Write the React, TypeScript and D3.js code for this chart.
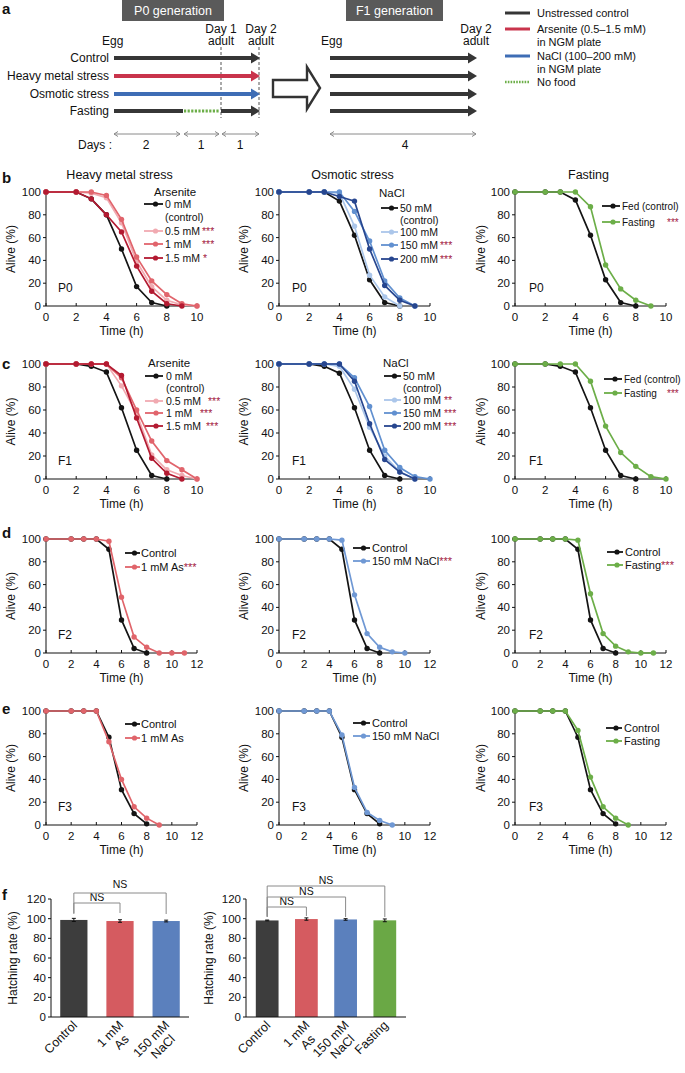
import React from 'react';
import * as d3 from 'd3';

type Pt = [number, number];

// ---------- Panel b (P0) ----------
const p0ArsCtrl: Pt[] = [[0,100],[2,100],[3,94],[4,80],[5,50],[6,17],[7,3],[8,0]];
const p0Ars05: Pt[] = [[0,100],[2,100],[3,99],[4,95],[5,73],[6,39],[7,17],[8,5],[9,1],[10,0]];
const p0Ars1: Pt[] = [[0,100],[2,100],[3,100],[4,97],[5,76],[6,43],[7,22],[8,10],[9,2],[10,0]];
const p0Ars15: Pt[] = [[0,100],[2,100],[3,94],[4,80],[5,65],[6,35],[7,13],[8,2],[9,0]];

const p0NaCtrl: Pt[] = [[0,100],[2,100],[3,100],[4,92],[5,62],[6,23],[7,3],[8,0]];
const p0Na100: Pt[] = [[0,100],[2,100],[3,100],[4,99],[5,70],[6,27],[7,8],[8,0]];
const p0Na150: Pt[] = [[0,100],[2,100],[3,100],[4,100],[5,83],[6,57],[7,22],[8,7],[9,0]];
const p0Na200: Pt[] = [[0,100],[2,100],[3,100],[4,96],[5,92],[6,50],[7,18],[8,5],[9,0]];

const p0FastCtrl: Pt[] = [[0,100],[2,100],[3,100],[4,93],[5,62],[6,23],[7,3],[8,0]];
const p0Fast: Pt[] = [[0,100],[2,100],[3,100],[4,100],[5,87],[6,36],[7,15],[8,5],[9,0]];

// ---------- Panel c (F1) ----------
const f1ArsCtrl: Pt[] = [[0,100],[2,100],[3,98],[4,93],[5,62],[6,25],[7,3],[8,0]];
const f1Ars05: Pt[] = [[0,100],[2,100],[3,100],[4,100],[5,81],[6,57],[7,21],[8,8],[9,3],[10,0]];
const f1Ars1: Pt[] = [[0,100],[2,100],[3,100],[4,100],[5,88],[6,60],[7,33],[8,16],[9,8],[10,0]];
const f1Ars15: Pt[] = [[0,100],[2,100],[3,100],[4,100],[5,90],[6,53],[7,18],[8,5],[9,0]];

const f1NaCtrl: Pt[] = [[0,100],[2,100],[3,98],[4,92],[5,62],[6,25],[7,3],[8,0]];
const f1Na100: Pt[] = [[0,100],[2,100],[3,100],[4,98],[5,78],[6,45],[7,20],[8,6],[9,0]];
const f1Na150: Pt[] = [[0,100],[2,100],[3,100],[4,100],[5,88],[6,63],[7,25],[8,10],[9,2],[10,0]];
const f1Na200: Pt[] = [[0,100],[2,100],[3,100],[4,100],[5,85],[6,48],[7,17],[8,6],[9,0]];

const f1FastCtrl: Pt[] = [[0,100],[2,100],[3,98],[4,93],[5,62],[6,25],[7,3],[8,0]];
const f1Fast: Pt[] = [[0,100],[2,100],[3,100],[4,100],[5,85],[6,46],[7,23],[8,11],[9,2],[10,0]];

// ---------- Panel d (F2) ----------
const f2Ctrl: Pt[] = [[0,100],[2,100],[3,100],[4,100],[5,91],[6,29],[7,4],[8,0]];
const f2As: Pt[] = [[0,100],[2,100],[3,100],[4,100],[5,98],[6,49],[7,14],[8,5],[9,0],[10,0],[11,0]];
const f2Na: Pt[] = [[0,100],[2,100],[3,100],[4,100],[5,99],[6,51],[7,17],[8,5],[9,1],[10,0]];
const f2Fast: Pt[] = [[0,100],[2,100],[3,100],[4,100],[5,99],[6,52],[7,17],[8,6],[9,1],[10,0],[11,0]];

// ---------- Panel e (F3) ----------
const f3Ctrl: Pt[] = [[0,100],[2,100],[3,100],[4,100],[5,77],[6,31],[7,10],[8,1]];
const f3As: Pt[] = [[0,100],[2,100],[3,100],[4,100],[5,73],[6,40],[7,16],[8,6],[9,0]];
const f3Na: Pt[] = [[0,100],[2,100],[3,100],[4,100],[5,79],[6,33],[7,11],[8,4],[9,0]];
const f3Fast: Pt[] = [[0,100],[2,100],[3,100],[4,100],[5,83],[6,42],[7,16],[8,6],[9,0]];

// ---------- Panel f (hatching rate) ----------
const barCatsA = ['Control', '1 mM As', '150 mM NaCl'];
const barLabelsA = [['Control'], ['1 mM', 'As'], ['150 mM', 'NaCl']];
const barValsA = [98.7, 97.6, 97.6];
const barErrsA = [1.6, 1.3, 0.9];
const barCatsB = ['Control', '1 mM As', '150 mM NaCl', 'Fasting'];
const barLabelsB = [['Control'], ['1 mM', 'As'], ['150 mM', 'NaCl'], ['Fasting']];
const barValsB = [98.2, 99.6, 99.2, 98.3];
const barErrsB = [0.4, 1.2, 0.8, 1.4];

const yTicksSurv = [0, 20, 40, 60, 80, 100];
const yTicksBar = [0, 20, 40, 60, 80, 100, 120];

const FONT = '"Liberation Sans", Arial, Helvetica, sans-serif';
const NARROW = '"Liberation Sans Narrow", "Liberation Sans", Arial, sans-serif';

const BLACK = '#141414';
const ARS = ['#f1aab1', '#e1646c', '#b31a31'];
const NA = ['#abc6ea', '#6190d0', '#27468f'];
const GREEN = '#6cae48';
const RED1 = '#e0646a';
const BLUE1 = '#6f98d4';
const STAR = '#a3203f';
const DARK = '#363636';
const HM = '#c9344c';
const OSM = '#3e6db5';

const COLX = [46, 279, 515];
const PW = 151;

interface Series { data: Pt[]; color: string }
interface LegItem { label: string; y: number; color?: string; stars?: string; starX?: number }
interface LegendCfg { lx1: number; lx2: number; tx: number; header?: { text: string; x: number; y: number }; items: LegItem[]; size?: number }

function Legend({ cfg, font }: { cfg: LegendCfg; font: string }) {
  const fs = cfg.size ?? 10.5;
  return (
    <g fontFamily={font} fontSize={fs} fill="#111">
      {cfg.header && <text x={cfg.header.x} y={cfg.header.y} dy="0.35em" fontSize={11.5}>{cfg.header.text}</text>}
      {cfg.items.map((it, i) => (
        <g key={i}>
          {it.color && (
            <g>
              <line x1={cfg.lx1} x2={cfg.lx2} y1={it.y} y2={it.y} stroke={it.color} strokeWidth={1.8} />
              <circle cx={(cfg.lx1 + cfg.lx2) / 2 + 2} cy={it.y} r={2.6} fill={it.color} />
            </g>
          )}
          <text x={cfg.tx} y={it.y} dy="0.35em">
            {it.label}
            {it.stars && it.starX === undefined && <tspan fill={STAR}>{it.stars}</tspan>}
          </text>
          {it.stars && it.starX !== undefined && (
            <text x={it.starX} y={it.y} dy="0.35em" fill={STAR}>{it.stars}</text>
          )}
        </g>
      ))}
    </g>
  );
}

function SurvPanel(p: {
  col: number; yTop: number; yBot: number; xMax: number; series: Series[]; gen: string;
  title?: string; legend: LegendCfg; narrow?: boolean;
}) {
  const x0 = COLX[p.col];
  const x = d3.scaleLinear().domain([0, p.xMax]).range([x0, x0 + PW]);
  const y = d3.scaleLinear().domain([0, 100]).range([p.yBot, p.yTop]);
  const line = d3.line<Pt>().x(d => x(d[0])).y(d => y(d[1]));
  const xt = d3.range(0, p.xMax + 1, 2);
  const font = p.narrow ? NARROW : FONT;
  const tfs = 11.5;
  const genX = [58, 292, 529][p.col];
  const ytX = [11, 244, 481][p.col];
  return (
    <g fontFamily={font}>
      {p.title && (
        <text x={x0 + PW / 2 - 2} y={p.yTop - 13} textAnchor="middle" fontFamily={FONT} fontSize={12.5} fill="#111">{p.title}</text>
      )}
      <g stroke="#111" strokeWidth={1}>
        <line x1={x0} x2={x0} y1={p.yTop} y2={p.yBot} />
        <line x1={x0} x2={x0 + PW} y1={p.yBot} y2={p.yBot} />
        {yTicksSurv.map(t => <line key={t} x1={x0 - 3} x2={x0} y1={y(t)} y2={y(t)} />)}
        {xt.map(t => <line key={t} x1={x(t)} x2={x(t)} y1={p.yBot} y2={p.yBot - 3} />)}
      </g>
      <g fontSize={tfs} fill="#111">
        {yTicksSurv.map(t => <text key={t} x={x0 - 5} y={y(t)} dy="0.35em" textAnchor="end">{t}</text>)}
        {xt.map(t => <text key={t} x={x(t)} y={p.yBot + 15} textAnchor="middle">{t}</text>)}
        <text x={x0 + PW / 2} y={p.yBot + 29} textAnchor="middle" fontSize={12}>Time (h)</text>
        <text transform={`translate(${ytX},${(p.yTop + p.yBot) / 2}) rotate(-90)`} dy="0.35em" textAnchor="middle" fontSize={12}>Alive (%)</text>
        <text x={genX} y={p.yBot - 18} dy="0.35em" fontSize={12}>{p.gen}</text>
      </g>
      {p.series.map((s, i) => (
        <g key={i}>
          <path d={line(s.data) || ''} fill="none" stroke={s.color} strokeWidth={1.7} />
          {s.data.map((d, j) => <circle key={j} cx={x(d[0])} cy={y(d[1])} r={2.7} fill={s.color} />)}
        </g>
      ))}
      <Legend cfg={p.legend} font={font} />
    </g>
  );
}

function BarPanel(p: {
  x0: number; x1: number; cats: string[]; labels: string[][]; vals: number[]; errs: number[]; colors: string[];
  pi: number; po: number; brackets: { to: number; top: number; bot: number; tY: number }[]; yTitleX: number;
}) {
  const yB = 1017, yT = 899;
  const y = d3.scaleLinear().domain([0, 120]).range([yB, yT]);
  const x = d3.scaleBand<string>().domain(p.cats).range([p.x0, p.x1]).paddingInner(p.pi).paddingOuter(p.po);
  const cx = (c: string) => (x(c) as number) + x.bandwidth() / 2;
  const c0 = cx(p.cats[0]);
  return (
    <g fontFamily={FONT}>
      {p.cats.map((c, i) => (
        <g key={c}>
          <rect x={x(c)} y={y(p.vals[i])} width={x.bandwidth()} height={yB - y(p.vals[i])} fill={p.colors[i]} />
          <g stroke="#111" strokeWidth={1}>
            <line x1={cx(c)} x2={cx(c)} y1={y(p.vals[i] + p.errs[i])} y2={y(p.vals[i] - p.errs[i])} />
            <line x1={cx(c) - 2} x2={cx(c) + 2} y1={y(p.vals[i] + p.errs[i])} y2={y(p.vals[i] + p.errs[i])} />
            <line x1={cx(c) - 2} x2={cx(c) + 2} y1={y(p.vals[i] - p.errs[i])} y2={y(p.vals[i] - p.errs[i])} />
          </g>
        </g>
      ))}
      <g stroke="#111" strokeWidth={1}>
        <line x1={p.x0} x2={p.x0} y1={yT} y2={yB} />
        <line x1={p.x0} x2={p.x1} y1={yB} y2={yB} />
        {yTicksBar.map(t => <line key={t} x1={p.x0 - 3} x2={p.x0} y1={y(t)} y2={y(t)} />)}
      </g>
      <g fontSize={11.5} fill="#111">
        {yTicksBar.map(t => <text key={t} x={p.x0 - 5} y={y(t)} dy="0.35em" textAnchor="end">{t}</text>)}
        <text transform={`translate(${p.yTitleX},${(yT + yB) / 2}) rotate(-90)`} dy="0.35em" textAnchor="middle" fontSize={12}>Hatching rate (%)</text>
      </g>
      {p.brackets.map((b, i) => {
        const c1 = cx(p.cats[b.to]);
        return (
          <g key={i}>
            <polyline points={`${c0},${b.bot} ${c0},${b.top} ${c1},${b.top} ${c1},${b.bot}`} fill="none" stroke="#8a8a8a" strokeWidth={1} />
            <text x={(c0 + c1) / 2} y={b.tY} textAnchor="middle" fontSize={10.5} fill="#111">NS</text>
          </g>
        );
      })}
      {p.cats.map((c, i) => {
        const lines = p.labels[i];
        return (
          <text key={c} transform={`translate(${cx(c) + 4},${yB + 9}) rotate(-45)`} textAnchor="end" fontSize={12.5} fill="#111">
            {lines.map((l, j) => (
              <tspan key={j} x={j === 0 ? 0 : -(lines[0].length - l.length) * 2.9} dy={j === 0 ? 0 : '1.1em'}>{l}</tspan>
            ))}
          </text>
        );
      })}
    </g>
  );
}

function ThickArrow({ x1, x2, y, color }: { x1: number; x2: number; y: number; color: string }) {
  return (
    <g>
      <line x1={x1} x2={x2 - 6} y1={y} y2={y} stroke={color} strokeWidth={4.2} />
      <polygon points={`${x2 - 9},${y - 5.5} ${x2},${y} ${x2 - 9},${y + 5.5}`} fill={color} />
    </g>
  );
}

function DayArrow({ x1, x2, y }: { x1: number; x2: number; y: number }) {
  return (
    <g stroke="#8a8a8a" fill="none" strokeWidth={1}>
      <line x1={x1} x2={x2} y1={y} y2={y} />
      <polyline points={`${x1 + 4},${y - 2.5} ${x1},${y} ${x1 + 4},${y + 2.5}`} />
      <polyline points={`${x2 - 4},${y - 2.5} ${x2},${y} ${x2 - 4},${y + 2.5}`} />
    </g>
  );
}

function PanelA() {
  const rows = [58, 76, 94, 111];
  return (
    <g fontFamily={FONT} fill="#111">
      <rect x={122} y={0} width={102} height={21} fill="#5a5a5a" />
      <text x={173} y={15} textAnchor="middle" fill="#fff" fontSize={12.5}>P0 generation</text>
      <rect x={346} y={0} width={97} height={21} fill="#5a5a5a" />
      <text x={394.5} y={15} textAnchor="middle" fill="#fff" fontSize={12.5}>F1 generation</text>

      <g fontSize={12}>
        <text x={102} y={45}>Egg</text>
        <text x={221} y={33} textAnchor="middle">Day 1</text>
        <text x={221} y={45} textAnchor="middle">adult</text>
        <text x={261} y={33} textAnchor="middle">Day 2</text>
        <text x={261} y={45} textAnchor="middle">adult</text>
        <text x={321} y={45}>Egg</text>
        <text x={476} y={33} textAnchor="middle">Day 2</text>
        <text x={476} y={45} textAnchor="middle">adult</text>
        <text x={109} y={rows[0]} dy="0.35em" textAnchor="end">Control</text>
        <text x={109} y={rows[1]} dy="0.35em" textAnchor="end">Heavy metal stress</text>
        <text x={109} y={rows[2]} dy="0.35em" textAnchor="end">Osmotic stress</text>
        <text x={109} y={rows[3]} dy="0.35em" textAnchor="end">Fasting</text>
        <text x={112} y={149} textAnchor="end">Days :</text>
        <text x={146} y={149} textAnchor="middle">2</text>
        <text x={201} y={149} textAnchor="middle">1</text>
        <text x={240} y={149} textAnchor="middle">1</text>
        <text x={405} y={149} textAnchor="middle">4</text>
      </g>

      <line x1={221} x2={221} y1={47} y2={118} stroke="#555" strokeWidth={1} strokeDasharray="3,2" />
      <line x1={259} x2={259} y1={47} y2={118} stroke="#555" strokeWidth={1} strokeDasharray="3,2" />

      <ThickArrow x1={114} x2={260} y={rows[0]} color={DARK} />
      <ThickArrow x1={114} x2={260} y={rows[1]} color={HM} />
      <ThickArrow x1={114} x2={260} y={rows[2]} color={OSM} />
      <line x1={114} x2={183} y1={rows[3]} y2={rows[3]} stroke={DARK} strokeWidth={4.2} />
      <line x1={184} x2={220} y1={rows[3]} y2={rows[3]} stroke={GREEN} strokeWidth={3.2} strokeDasharray="2.2,1.4" />
      <ThickArrow x1={221} x2={260} y={rows[3]} color={DARK} />

      {rows.map(r => <ThickArrow key={r} x1={330} x2={477} y={r} color={DARK} />)}

      <DayArrow x1={114} x2={180} y={134} />
      <DayArrow x1={184} x2={219} y={134} />
      <DayArrow x1={222} x2={259} y={134} />
      <DayArrow x1={330} x2={476} y={134} />

      <path d="M273,80 L307,80 L307,67 L320,88 L307,109 L307,97 L273,97 Z" fill="#fff" stroke="#333" strokeWidth={2.4} strokeLinejoin="miter" />

      <g fontSize={11}>
        <line x1={505} x2={530} y1={13} y2={13} stroke={DARK} strokeWidth={3} />
        <text x={537} y={13} dy="0.35em">Unstressed control</text>
        <line x1={505} x2={530} y1={29} y2={29} stroke={HM} strokeWidth={3} />
        <text x={537} y={29} dy="0.35em">Arsenite (0.5–1.5 mM)</text>
        <text x={537} y={42} dy="0.35em">in NGM plate</text>
        <line x1={505} x2={530} y1={56} y2={56} stroke={OSM} strokeWidth={3} />
        <text x={537} y={56} dy="0.35em">NaCl (100–200 mM)</text>
        <text x={537} y={69} dy="0.35em">in NGM plate</text>
        <line x1={505} x2={530} y1={82} y2={82} stroke={GREEN} strokeWidth={2.5} strokeDasharray="1.6,1.2" />
        <text x={537} y={82} dy="0.35em">No food</text>
      </g>
    </g>
  );
}

export default function App() {
  const bT = 192, bB = 306, cT = 364, cB = 479, dT = 539, dB = 653, eT = 711, eB = 825;
  return (
    <svg width={685} height={1073} style={{ position: 'absolute', left: 0, top: 0, background: '#fff' }}>
      <rect width={685} height={1073} fill="#fff" />
      <g fontFamily={FONT} fontWeight="bold" fontSize={15} fill="#111">
        <text x={2} y={14}>a</text>
        <text x={2} y={183}>b</text>
        <text x={2} y={369}>c</text>
        <text x={2} y={538}>d</text>
        <text x={2} y={714}>e</text>
        <text x={2} y={900}>f</text>
      </g>
      <PanelA />

      {/* Row b */}
      <SurvPanel col={0} yTop={bT} yBot={bB} xMax={10} gen="P0" title="Heavy metal stress"
        series={[{ data: p0ArsCtrl, color: BLACK }, { data: p0Ars05, color: ARS[0] }, { data: p0Ars1, color: ARS[1] }, { data: p0Ars15, color: ARS[2] }]}
        legend={{ lx1: 144, lx2: 163, tx: 165, header: { text: 'Arsenite', x: 154, y: 192 }, items: [
          { label: '0 mM', y: 204, color: BLACK }, { label: '(control)', y: 217 },
          { label: '0.5 mM', y: 231, color: ARS[0], stars: '***', starX: 202 },
          { label: '1 mM', y: 244, color: ARS[1], stars: '***', starX: 202 },
          { label: '1.5 mM', y: 258, color: ARS[2], stars: '*', starX: 203 }] }} />
      <SurvPanel col={1} yTop={bT} yBot={bB} xMax={10} gen="P0" title="Osmotic stress"
        series={[{ data: p0NaCtrl, color: BLACK }, { data: p0Na100, color: NA[0] }, { data: p0Na150, color: NA[1] }, { data: p0Na200, color: NA[2] }]}
        legend={{ lx1: 381, lx2: 398, tx: 400, header: { text: 'NaCl', x: 379, y: 193 }, items: [
          { label: ' 50 mM', y: 208, color: BLACK }, { label: '(control)', y: 220 },
          { label: '100 mM', y: 232, color: NA[0] },
          { label: '150 mM', y: 245, color: NA[1], stars: '***', starX: 440 },
          { label: '200 mM', y: 259, color: NA[2], stars: '***', starX: 440 }] }} />
      <SurvPanel col={2} yTop={bT} yBot={bB} xMax={10} gen="P0" title="Fasting"
        series={[{ data: p0FastCtrl, color: BLACK }, { data: p0Fast, color: GREEN }]}
        legend={{ lx1: 602, lx2: 620, tx: 622, size: 10, items: [
          { label: 'Fed (control)', y: 206, color: BLACK },
          { label: 'Fasting', y: 222, color: GREEN, stars: '***', starX: 667 }] }} />

      {/* Row c */}
      <SurvPanel col={0} yTop={cT} yBot={cB} xMax={10} gen="F1"
        series={[{ data: f1ArsCtrl, color: BLACK }, { data: f1Ars05, color: ARS[0] }, { data: f1Ars1, color: ARS[1] }, { data: f1Ars15, color: ARS[2] }]}
        legend={{ lx1: 145, lx2: 163, tx: 166, header: { text: 'Arsenite', x: 148, y: 363 }, items: [
          { label: '0 mM', y: 376, color: BLACK }, { label: '(control)', y: 388 },
          { label: '0.5 mM', y: 401, color: ARS[0], stars: '***', starX: 208 },
          { label: '1 mM', y: 413, color: ARS[1], stars: '***', starX: 200 },
          { label: '1.5 mM', y: 426, color: ARS[2], stars: '***', starX: 206 }] }} />
      <SurvPanel col={1} yTop={cT} yBot={cB} xMax={10} gen="F1"
        series={[{ data: f1NaCtrl, color: BLACK }, { data: f1Na100, color: NA[0] }, { data: f1Na150, color: NA[1] }, { data: f1Na200, color: NA[2] }]}
        legend={{ lx1: 384, lx2: 401, tx: 403, header: { text: 'NaCl', x: 383, y: 363 }, items: [
          { label: '50 mM', y: 376, color: BLACK }, { label: '(control)', y: 388 },
          { label: '100 mM', y: 400, color: NA[0], stars: '**', starX: 444 },
          { label: '150 mM', y: 413, color: NA[1], stars: '***', starX: 444 },
          { label: '200 mM', y: 426, color: NA[2], stars: '***', starX: 444 }] }} />
      <SurvPanel col={2} yTop={cT} yBot={cB} xMax={10} gen="F1"
        series={[{ data: f1FastCtrl, color: BLACK }, { data: f1Fast, color: GREEN }]}
        legend={{ lx1: 604, lx2: 622, tx: 624, size: 10, items: [
          { label: 'Fed (control)', y: 379, color: BLACK },
          { label: 'Fasting', y: 393, color: GREEN, stars: '***', starX: 667 }] }} />

      {/* Row d */}
      <SurvPanel col={0} yTop={dT} yBot={dB} xMax={12} gen="F2" narrow
        series={[{ data: f2Ctrl, color: BLACK }, { data: f2As, color: RED1 }]}
        legend={{ lx1: 125, lx2: 140, tx: 141, size: 11, items: [
          { label: 'Control', y: 553, color: BLACK },
          { label: '1 mM As', y: 567, color: RED1, stars: '***' }] }} />
      <SurvPanel col={1} yTop={dT} yBot={dB} xMax={12} gen="F2" narrow
        series={[{ data: f2Ctrl, color: BLACK }, { data: f2Na, color: BLUE1 }]}
        legend={{ lx1: 353, lx2: 370, tx: 372, size: 11, items: [
          { label: 'Control', y: 548, color: BLACK },
          { label: '150 mM NaCl', y: 561, color: BLUE1, stars: '***' }] }} />
      <SurvPanel col={2} yTop={dT} yBot={dB} xMax={12} gen="F2" narrow
        series={[{ data: f2Ctrl, color: BLACK }, { data: f2Fast, color: GREEN }]}
        legend={{ lx1: 607, lx2: 623, tx: 625, size: 11, items: [
          { label: 'Control', y: 552, color: BLACK },
          { label: 'Fasting', y: 565, color: GREEN, stars: '***' }] }} />

      {/* Row e */}
      <SurvPanel col={0} yTop={eT} yBot={eB} xMax={12} gen="F3" narrow
        series={[{ data: f3Ctrl, color: BLACK }, { data: f3As, color: RED1 }]}
        legend={{ lx1: 125, lx2: 140, tx: 141, size: 11, items: [
          { label: 'Control', y: 724, color: BLACK },
          { label: '1 mM As', y: 738, color: RED1 }] }} />
      <SurvPanel col={1} yTop={eT} yBot={eB} xMax={12} gen="F3" narrow
        series={[{ data: f3Ctrl, color: BLACK }, { data: f3Na, color: BLUE1 }]}
        legend={{ lx1: 353, lx2: 370, tx: 372, size: 11, items: [
          { label: 'Control', y: 723, color: BLACK },
          { label: '150 mM NaCl', y: 736, color: BLUE1 }] }} />
      <SurvPanel col={2} yTop={eT} yBot={eB} xMax={12} gen="F3" narrow
        series={[{ data: f3Ctrl, color: BLACK }, { data: f3Fast, color: GREEN }]}
        legend={{ lx1: 606, lx2: 622, tx: 624, size: 11, items: [
          { label: 'Control', y: 728, color: BLACK },
          { label: 'Fasting', y: 741, color: GREEN }] }} />

      {/* Row f */}
      <BarPanel x0={51} x1={189} cats={barCatsA} labels={barLabelsA} vals={barValsA} errs={barErrsA}
        colors={['#3d3d3d', '#d55b60', '#5b80bd']} pi={0.41} po={0.2} yTitleX={13}
        brackets={[{ to: 1, top: 903, bot: 913, tY: 901 }, { to: 2, top: 893, bot: 914, tY: 888 }]} />
      <BarPanel x0={246} x1={406} cats={barCatsB} labels={barLabelsB} vals={barValsB} errs={barErrsB}
        colors={['#3d3d3d', '#d55b60', '#5b80bd', '#6aa845']} pi={0.42} po={0.25} yTitleX={209}
        brackets={[{ to: 1, top: 907, bot: 916, tY: 905 }, { to: 2, top: 897, bot: 917, tY: 895 }, { to: 3, top: 886, bot: 917, tY: 884 }]} />
    </svg>
  );
}
